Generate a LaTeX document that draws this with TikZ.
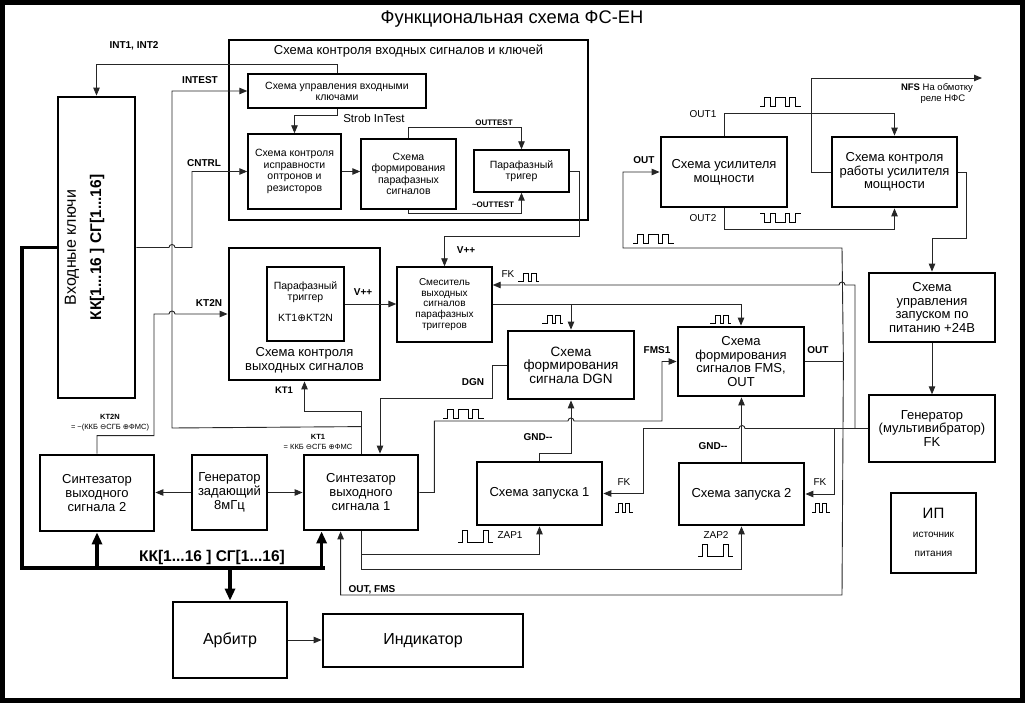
\documentclass[tikz,border=0pt]{standalone}
\usepackage{fontspec}
\setmainfont{Liberation Sans}
\newfontfamily\symf{DejaVu Sans}
\usetikzlibrary{arrows.meta,calc}
\newcommand\fsz[2]{\fontsize{#1}{#2}\selectfont}
\newcommand\opl{{\symf ⊕}}
\newcommand\omi{{\symf ⊖}}
\newcommand\wA[1]{\draw[wv] #1 -- ++(4,0) -- ++(0,-9) -- ++(6,0) -- ++(0,9) -- ++(5,0) -- ++(0,-9) -- ++(10,0) -- ++(0,9) -- ++(4,0) -- ++(0,-9) -- ++(6,0) -- ++(0,9) -- ++(6,0);}
\newcommand\wB[1]{\draw[wv] #1 -- ++(4,0) -- ++(0,9) -- ++(6,0) -- ++(0,-9) -- ++(5,0) -- ++(0,9) -- ++(10,0) -- ++(0,-9) -- ++(4,0) -- ++(0,9) -- ++(6,0) -- ++(0,-9) -- ++(6,0);}
\newcommand\wFK[1]{\draw[wv] #1 -- ++(5,0) -- ++(0,-8) -- ++(5,0) -- ++(0,8) -- ++(3,0) -- ++(0,-8) -- ++(5,0) -- ++(0,8) -- ++(3,0);}
\newcommand\wFtwo[1]{\draw[wv] #1 -- ++(3,0) -- ++(0,-9) -- ++(4,0) -- ++(0,9) -- ++(3,0) -- ++(0,-9) -- ++(4,0) -- ++(0,9) -- ++(4,0);}
\newcommand\wZ[1]{\draw[wv] #1 -- ++(4,0) -- ++(0,-12) -- ++(5,0) -- ++(0,12) -- ++(16,0) -- ++(0,-12) -- ++(5,0) -- ++(0,12) -- ++(5,0);}
\begin{document}
\begin{tikzpicture}[x=1pt,y=-1pt,
  blk/.style={draw, line width=2.8pt, inner sep=0pt, align=center},
  thn/.style={draw, line width=1.4pt, inner sep=0pt, align=center},
  wire/.style={line width=0.9pt, draw=black!85},
  arr/.style={wire, -{Triangle[length=8pt,width=6.5pt]}},
  bus/.style={line width=3.6pt},
  busarr/.style={bus, -{Triangle[length=12pt,width=10pt]}},
  wv/.style={line width=0.8pt},
  lb/.style={inner sep=0pt, font=\bfseries\fsz{10}{11}},
  ln/.style={inner sep=0pt, font=\fsz{10}{11}},
  tx/.style={inner sep=0pt, align=center}
]
\useasboundingbox (0,0) rectangle (1025,703);
\draw[line width=5pt] (2.5,2.5) rectangle (1022.5,700.5);
\node[tx, font=\fsz{18.3}{20}] (title) at (512,19) {Функциональная схема ФС-ЕН};

% ---- control block
\node[blk, minimum width=359, minimum height=180] (ctrl) at (408.5,130) {};
\node[tx, font=\fsz{13}{13}] (ctrlt) at (408.5,51) {Схема контроля входных сигналов и ключей};
\node[thn, minimum width=178, minimum height=34, font=\fsz{10.5}{11}] (upr) at (337,91) {Схема управления входными\\ключами};
\node[thn, minimum width=93, minimum height=75, font=\fsz{10.5}{11.5}] (ispr) at (294.5,171.5) {Схема контроля\\исправности\\оптронов и\\резисторов};
\node[thn, minimum width=95, minimum height=70, font=\fsz{10.5}{11.5}] (form) at (408.5,174) {Схема\\формирования\\парафазных\\сигналов};
\node[thn, minimum width=95, minimum height=42, font=\fsz{10.5}{11.5}] (trig1) at (521.5,171) {Парафазный\\тригер};

% ---- input keys
\node[blk, minimum width=77, minimum height=301] (vhod) at (96.5,247.5) {};
\node[tx, rotate=90, font=\fsz{16}{17}] (vhodA) at (72,247.5) {Входные ключи};
\node[tx, rotate=90, font=\bfseries\fsz{15.5}{16}] (vhodB) at (97,247.5) {КК[1...16 ] СГ[1...16]};

% ---- output control
\node[blk, minimum width=151, minimum height=132] (kvs) at (304.5,314) {};
\node[tx, font=\fsz{13}{14}] (kvst) at (304.5,360) {Схема контроля\\выходных сигналов};
\node[thn, minimum width=77, minimum height=74] (trig2) at (305.5,304) {};
\node[tx, font=\fsz{10.5}{11}] (trig2a) at (305.5,292) {Парафазный\\триггер};
\node[tx, font=\fsz{10.5}{11}] (trig2b) at (305.5,318) {KT1\opl KT2N};

\node[thn, minimum width=95, minimum height=75, font=\fsz{10}{10.7}] (mix) at (444.5,304.5) {Смеситель\\выходных\\сигналов\\парафазных\\триггеров};
\node[blk, minimum width=126, minimum height=68, font=\fsz{13.5}{13.5}] (dgn) at (571,365) {Схема\\формирования\\сигнала DGN};
\node[blk, minimum width=126, minimum height=69, font=\fsz{13}{13.5}] (fms) at (741,361.5) {Схема\\формирования\\сигналов FMS,\\OUT};
\node[blk, minimum width=126, minimum height=70, font=\fsz{13}{14}] (usil) at (724,172) {Схема усилителя\\мощности};
\node[blk, minimum width=125, minimum height=70, font=\fsz{13}{13.5}] (kru) at (894.5,172) {Схема контроля\\работы усилителя\\мощности};
\node[blk, minimum width=126, minimum height=69, font=\fsz{13}{13.5}] (upz) at (932,307.5) {Схема\\управления\\запуском по\\питанию +24В};
\node[thn, minimum width=126, minimum height=67, font=\fsz{13}{13.5}] (genfk) at (932,428.5) {Генератор\\(мультивибратор)\\FK};
\node[blk, minimum width=85, minimum height=80] (ip) at (933.5,533) {};
\node[tx, font=\fsz{15}{16}] (ipa) at (933.5,513) {ИП};
\node[tx, font=\fsz{10}{10}] (ipb) at (933.5,535) {источник};
\node[tx, font=\fsz{10}{10}] (ipc) at (933.5,554) {питания};
\node[blk, minimum width=114, minimum height=76, font=\fsz{13}{14}] (syn2) at (97,493) {Синтезатор\\выходного\\сигнала 2};
\node[thn, minimum width=75, minimum height=75, font=\fsz{13}{14}] (gen8) at (229.5,492.5) {Генератор\\задающий\\8мГц};
\node[blk, minimum width=114, minimum height=75, font=\fsz{13}{14}] (syn1) at (361,492.5) {Синтезатор\\выходного\\сигнала 1};
\node[blk, minimum width=125, minimum height=63, font=\fsz{13}{14}] (zap1) at (539.5,493.5) {Схема запуска 1};
\node[blk, minimum width=125, minimum height=62, font=\fsz{13}{14}] (zap2) at (741.5,494) {Схема запуска 2};
\node[blk, minimum width=114, minimum height=76, font=\fsz{16}{17}] (arb) at (230,640) {Арбитр};
\node[blk, minimum width=200, minimum height=53, font=\fsz{16}{17}] (ind) at (423,640.5) {Индикатор};

\coordinate (busY) at (0,568);
\coordinate (fkY) at (0,285);
\coordinate (s1bus) at ($(syn1.south west)+(19,0)$);
\coordinate (s1out) at ($(syn1.south west)+(38,0)$);
\coordinate (s1dgn) at ($(syn1.north)+(19,0)$);
\coordinate (outX) at ($(fms.east)+(38,0)$);
\coordinate (nfsend) at (982,78);

% ---- connectors in control block
\draw[arr] (upr.north) -- ++(0,-9) -| (vhod.north);
\draw[arr] (upr.south) -- ++(0,7) -| (ispr.north);
\draw[arr] (ispr.east) -- (ispr.east -| form.west);
\draw[arr] (form.north) -- ++(0,-11) -| (trig1.north);
\draw[arr] (form.south) -- ++(0,4) -| (trig1.south);
\draw[arr] (trig1.east) -- ++(10,0) -- ++(0,65) -| (mix.north);
\draw[arr] (trig2.east) -- (trig2.east -| mix.west);
\draw[arr] (vhod.east) -- (169,247.5) arc[start angle=180,end angle=360,radius=3] -- (192,247.5) |- (ispr.west);

% ---- bus
\draw[bus] (vhod.west) -- (22,247.5) -- (22,568) -- (325,568);
\draw[busarr] (syn2.south |- busY) -- (syn2.south);
\draw[busarr] (s1bus |- busY) -- (s1bus);
\draw[busarr] (arb.north |- busY) -- (arb.north);

% ---- synth 1 top
\draw[arr] (syn1.north) -- ++(0,-42) -| (kvs.south);
\draw[arr] ($(syn1.north)+(0,-27)$) -- (172,428) |- (upr.west);
\draw[arr] (syn2.north) -- ++(0,-18) -- ++(57,0) -- (154,314) -- (169,314) arc[start angle=180,end angle=360,radius=3] -- (kvs.west);
\draw[arr] (gen8.west) -- (gen8.west -| syn2.east);
\draw[arr] (gen8.east) -- (gen8.east -| syn1.west);
\draw[arr] (arb.east) -- (arb.east -| ind.west);

% ---- DGN, FMS1
\draw[arr] (dgn.west) -- ++(-14,0) -- ++(0,33) -| (s1dgn);
\draw[arr] (syn1.east) -- ++(15,0) -- ++(0,-71.5) -- (568,421) arc[start angle=180,end angle=360,radius=3] -- (662,421) |- (fms.west);
\draw[arr] (mix.east) -| (fms.north);
\draw[arr] (dgn.north |- mix.east) -- (dgn.north);

% ---- FK
\draw[wire] (genfk.west) -- (745,428.5) arc[start angle=0,end angle=-180,radius=3] -- (643,428.5);
\draw[arr] (643,428.5) |- (zap1.east);
\draw[arr] (834,428.5) |- (zap2.east);
\draw[arr] (855,428.5) -- (855,285) -- (845,285) arc[start angle=0,end angle=-180,radius=3] -- (mix.east |- fkY);

% ---- GND, ZAP
\draw[arr] (zap1.north) -- ++(0,-7) -| (dgn.south);
\draw[arr] (zap2.north) -- (zap2.north |- fms.south);
\draw[arr] (syn1.south) -- ++(0,23) -| (zap1.south);
\draw[arr] ($(syn1.south)+(0,23)$) -- ++(0,15) -| (zap2.south);

% ---- OUT
\draw[wire] (fms.east) -- (outX);
\draw[arr] (outX) -- (842,248) -- (623,248) |- (usil.west);
\draw[arr] (outX) -- (842,595) -| (s1out);

% ---- power amp
\draw[arr] (usil.north) -- ++(0,-22) -| (kru.north);
\draw[arr] (usil.south) -- ++(0,21) -| (kru.south);
\draw[arr] (kru.west) -- ++(-19,0) |- (nfsend);
\draw[arr] (kru.east) -- ++(8,0) -- ++(0,66) -| (upz.north);
\draw[arr] (upz.south) -- (genfk.north);

% ---- labels
\node[lb] (lint) at (134,46) {INT1, INT2};
\node[lb] (lintest) at (200,80) {INTEST};
\node[lb] (lcntrl) at (204,163) {CNTRL};
\node[tx, font=\fsz{11.5}{12}] (lstrob) at (374,118) {Strob InTest};
\node[tx, font=\bfseries\fsz{8}{9}] (lot) at (494,123) {OUTTEST};
\node[tx, font=\bfseries\fsz{8}{9}] (lnot) at (493,205) {\textasciitilde OUTTEST};
\node[lb] (lv1) at (466,250) {V++};
\node[lb] (lv2) at (363,292) {V++};
\node[lb] (lkt2n) at (209,303) {KT2N};
\node[tx, font=\bfseries\fsz{9.5}{10}] (lkt1) at (284,390) {KT1};
\node[tx, font=\fsz{7.5}{10}] (lkt2nf) at (110,423) {\textbf{KT2N}\\= \textasciitilde(ККБ \omi СГБ \opl ФМС)};
\node[tx, font=\fsz{7.5}{10}] (lkt1f) at (318,442) {\textbf{KT1}\\= ККБ \omi СГБ \opl ФМС};
\node[tx, font=\bfseries\fsz{15.5}{16}] (lbus) at (212,557) {КК[1...16 ] СГ[1...16]};
\node[ln] (lfk0) at (508,274) {FK};
\node[lb] (ldgn) at (473,382) {DGN};
\node[lb] (lfms1) at (657,350) {FMS1};
\node[lb] (lout1) at (818,350) {OUT};
\node[lb] (lgnd1) at (538,437) {GND{-}{-}};
\node[lb] (lgnd2) at (713,446) {GND{-}{-}};
\node[ln] (lfk1) at (624,482) {FK};
\node[ln] (lfk2) at (820,482) {FK};
\node[ln] (lzap1) at (510,535) {ZAP1};
\node[ln] (lzap2) at (716,535) {ZAP2};
\node[lb] (loutfms) at (372,590) {OUT, FMS};
\node[lb] (lout2) at (644,160) {OUT};
\node[ln] (lo1) at (703,114) {OUT1};
\node[ln] (lo2) at (703,218) {OUT2};
\node[tx, font=\fsz{9.5}{10}] (lnfs) at (937,88) {\textbf{NFS} На обмотку};
\node[tx, font=\fsz{9.5}{10}] (lnfs2) at (943,99) {реле НФС};

% ---- waveforms
\wA{(760,106)}
\wB{(760,213)}
\wA{(633,243)}
\wA{(443,418)}
\wFK{(518,281)}
\wFK{(542,323)}
\wFK{(710,323)}
\wFtwo{(615,512)}
\wFtwo{(812,512)}
\wZ{(458,542)}
\wZ{(698,556)}
\end{tikzpicture}
\end{document}
